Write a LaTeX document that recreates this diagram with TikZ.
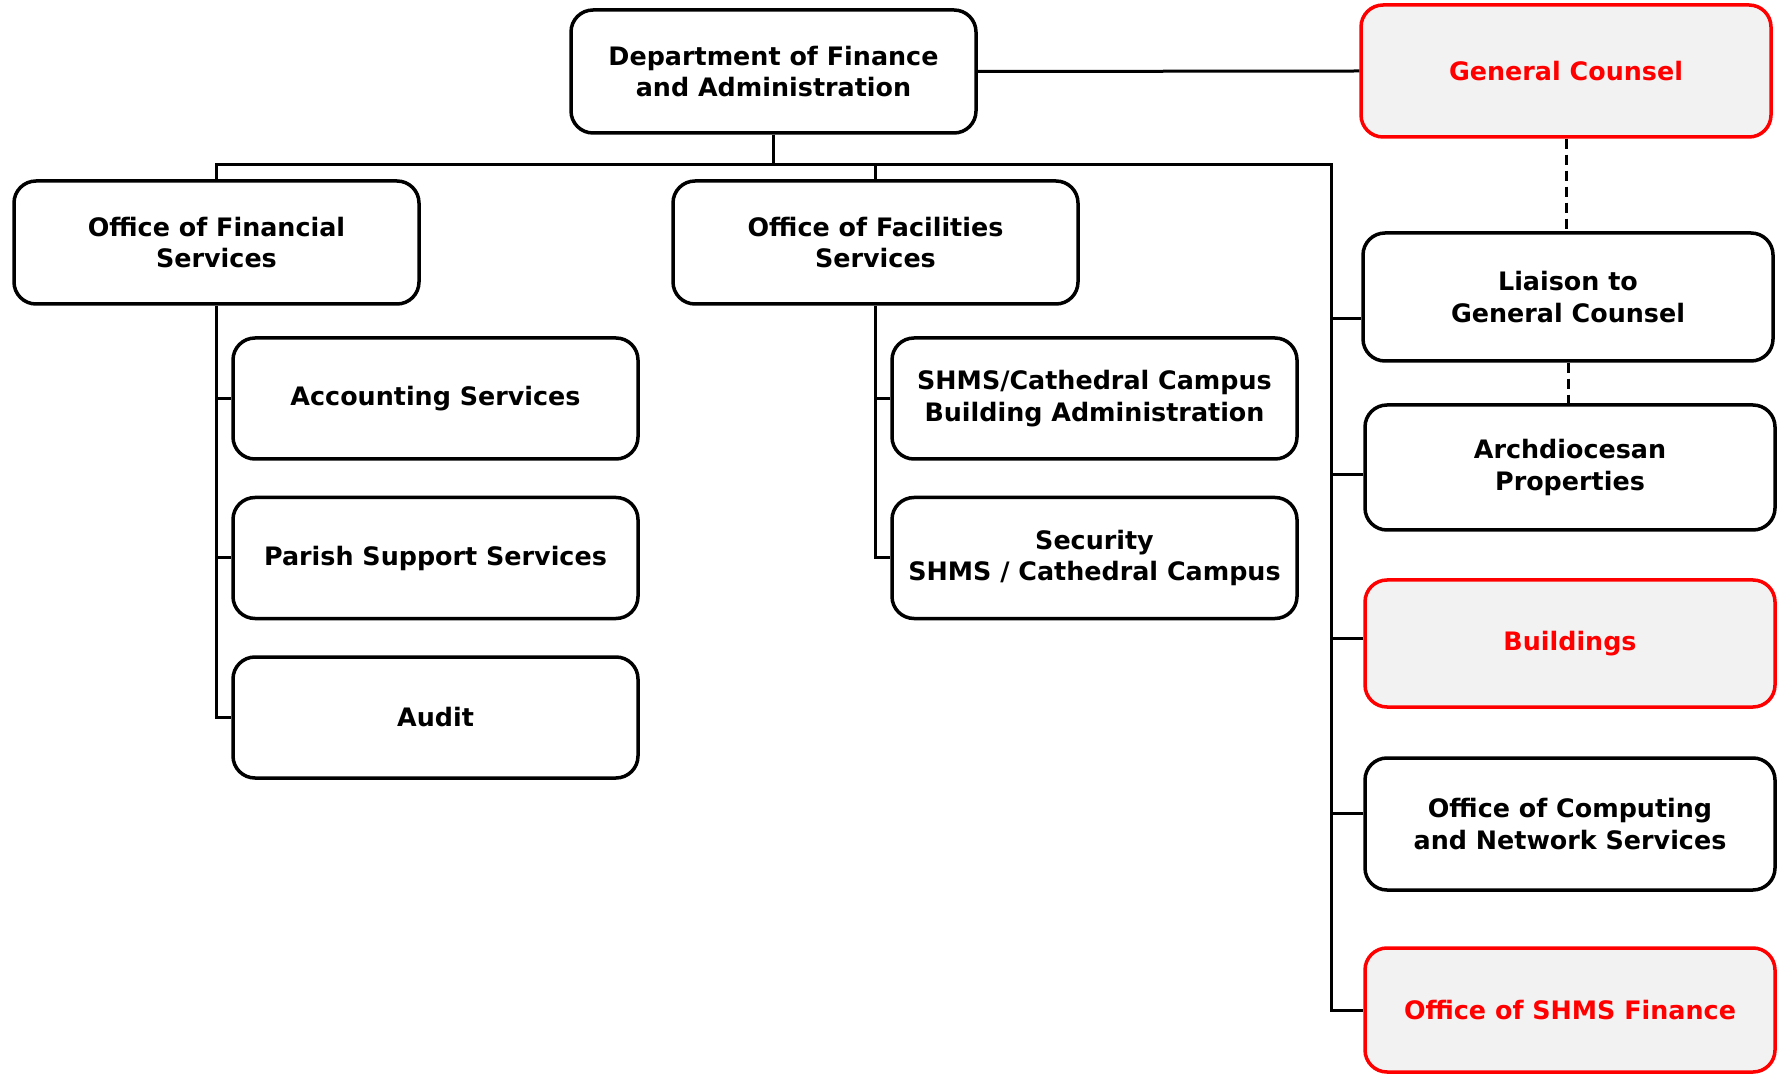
\documentclass[tikz,border=0pt]{standalone}
\usepackage{fontspec}
\setmainfont{DejaVu Sans}
\usetikzlibrary{positioning}
\definecolor{redc}{HTML}{FF0000}
\definecolor{grayfill}{HTML}{F2F2F2}
\tikzset{
  box/.style={draw=black, line width=1.75pt, rounded corners=11pt, fill=white,
    align=center, font=\bfseries\fontsize{12.7}{15.8}\selectfont, inner sep=0pt},
  redbox/.style={box, draw=redc, fill=grayfill, text=redc},
  wa/.style={minimum width=202.5pt, minimum height=61.5pt},
  wb/.style={minimum width=202.5pt, minimum height=60.5pt},
  wr/.style={minimum width=205pt, minimum height=64pt},
  conn/.style={line width=1.5pt},
  dconn/.style={line width=1.5pt, dash pattern=on 5pt off 3pt},
}
\begin{document}
\begin{tikzpicture}[x=0.5pt,y=-0.5pt]
\useasboundingbox (0,0) rectangle (1777,1074);
% top
\node[box,wa] (dept) at (773.5,71.5) {Department of Finance\\and Administration};
\node[redbox,minimum width=205pt,minimum height=66pt] (gc) at (1566,71) {General Counsel};
% level 2
\node[box,wa] (ofs) at (216.5,242.5) {Office of Financial\\Services};
\node[box,wa] (fac) at (875.5,242.5) {Office of Facilities\\Services};
% OFS children
\node[box,wb] (acc) at (435.5,398.5) {Accounting Services};
\node[box,wb] (par) at (435.5,558) {Parish Support Services};
\node[box,wb] (aud) at (435.5,717.5) {Audit};
% Facilities children
\node[box,wb] (bld) at (1094.5,398.5) {SHMS/Cathedral Campus\\Building Administration};
\node[box,wb] (sec) at (1094.5,558) {Security\\SHMS / Cathedral Campus};
% right column
\node[box,wr] (lia) at (1568,297) {Liaison to\\General Counsel};
\node[box,wr,minimum height=62.5pt] (arc) at (1570,467.5) {Archdiocesan\\Properties};
\node[redbox,wr,minimum height=63.5pt] (bui) at (1570,643.5) {Buildings};
\node[box,wr,minimum height=66pt] (com) at (1570,824) {Office of Computing\\and Network Services};
\node[redbox,wr,minimum height=62pt] (sfin) at (1570,1010) {Office of SHMS Finance};
% coordinates
\coordinate (bus) at (773.5,165);
\coordinate (rtop) at (1331,165);
% connectors
\draw[conn] (dept.east) -- (gc.west);
\draw[conn] (dept.south) -- (bus);
\draw[conn] (ofs.north) |- (rtop) -- (rtop |- sfin.west) -- (sfin.west);
\draw[conn] (fac.north) -- (fac.north |- bus);
\draw[dconn] (gc.south) -- (gc.south |- lia.north);
\draw[dconn] (lia.south) -- (lia.south |- arc.north);
% right stubs
\draw[conn] ([yshift=-11pt]lia.west) -| (rtop);
\draw[conn] ([yshift=-3.75pt]arc.west) -| (rtop);
\draw[conn] ([yshift=2.75pt]bui.west) -| (rtop);
\draw[conn] ([yshift=5.5pt]com.west) -| (rtop);
% OFS tree
\draw[conn] (ofs.south) -- (ofs.south |- aud.west) -- (aud.west);
\draw[conn] (acc.west) -- (ofs.south |- acc.west);
\draw[conn] (par.west) -- (ofs.south |- par.west);
% Facilities tree
\draw[conn] (fac.south) -- (fac.south |- sec.west) -- (sec.west);
\draw[conn] (bld.west) -- (fac.south |- bld.west);
\end{tikzpicture}
\end{document}
